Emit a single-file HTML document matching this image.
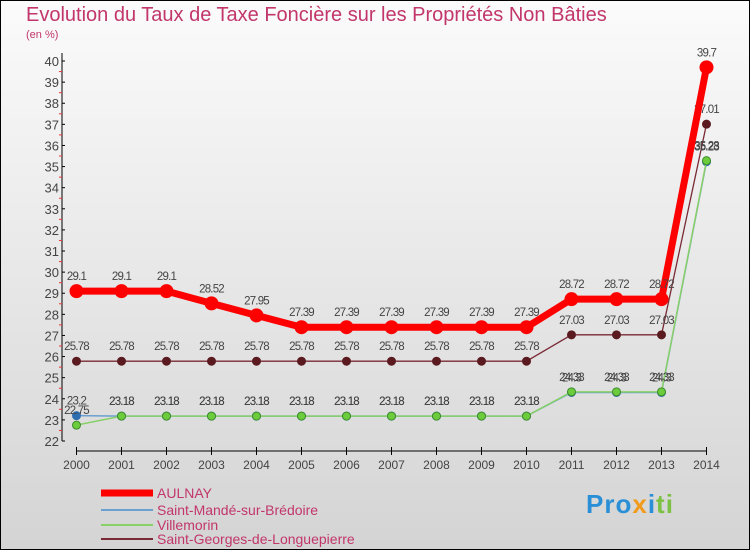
<!DOCTYPE html>
<html><head><meta charset="utf-8"><style>
body{margin:0}
#wrap{position:relative;width:748px;height:548px;border:1px solid #000;background:linear-gradient(#fbfbfb,#d4d4d4);font-family:"Liberation Sans",sans-serif;overflow:hidden}
.t{position:absolute;color:#c2366b}
</style></head><body>
<div id="wrap">
<div class="t" style="left:25px;top:3px;font-size:20px">Evolution du Taux de Taxe Foncière sur les Propriétés Non Bâties</div>
<div class="t" style="left:25px;top:28px;font-size:11px">(en %)</div>
<svg id="svg" width="748" height="548" style="position:absolute;left:0;top:0"></svg>
<div style="position:absolute;left:585px;top:488px;font-size:26px;font-weight:bold;letter-spacing:1px"><span style="color:#2a8fd6">Pro</span><span style="color:#f29a1b">x</span><span style="color:#2a8fd6">i</span><span style="color:#7cc143">ti</span></div>
</div>
<script>
const years=[2000,2001,2002,2003,2004,2005,2006,2007,2008,2009,2010,2011,2012,2013,2014];
const aulnay=[29.1,29.1,29.1,28.52,27.95,27.39,27.39,27.39,27.39,27.39,27.39,28.72,28.72,28.72,39.7];
const mande=[23.2,23.18,23.18,23.18,23.18,23.18,23.18,23.18,23.18,23.18,23.18,24.3,24.3,24.3,35.23];
const villemorin=[22.75,23.18,23.18,23.18,23.18,23.18,23.18,23.18,23.18,23.18,23.18,24.33,24.33,24.33,35.28];
const georges=[25.78,25.78,25.78,25.78,25.78,25.78,25.78,25.78,25.78,25.78,25.78,27.03,27.03,27.03,37.01];
const yTicks=[22,23,24,25,26,27,28,29,30,31,32,33,34,35,36,37,38,39,40];
const names=["AULNAY","Saint-Mandé-sur-Brédoire","Villemorin","Saint-Georges-de-Longuepierre"];
const NS="http://www.w3.org/2000/svg",svg=document.getElementById('svg');
const X=i=>75.5+i*45, Y=v=>440-(v-22)*21.11;
function el(t,a,p){const e=document.createElementNS(NS,t);for(const k in a)e.setAttribute(k,a[k]);(p||svg).appendChild(e);return e;}
let e=el('line',{x1:61,y1:52,x2:61,y2:440,stroke:'#000'});


e=el('line',{x1:75,y1:450,x2:706,y2:450,stroke:'#000'});


yTicks.forEach(v=>{el('line',{x1:61,y1:Y(v),x2:64,y2:Y(v),stroke:'#000'});
 if(v<40)el('line',{x1:58,y1:Y(v+0.5),x2:61,y2:Y(v+0.5),stroke:'#e33'});
 const t=el('text',{x:58,y:Y(v)+5,'text-anchor':'end','font-size':13,fill:'#444'});t.textContent=v;
 
 });
years.forEach((y,i)=>{el('line',{x1:X(i),y1:446,x2:X(i),y2:454,stroke:'#000'});
 const t=el('text',{x:X(i),y:468,'text-anchor':'middle','font-size':12,fill:'#444'});t.textContent=y;
 
 });
function series(d,color,w,r,fill,stroke,name){
 const g=el('g',{});
 
 
 el('polyline',{points:d.map((v,i)=>X(i)+','+Y(v)).join(' '),fill:'none',stroke:color,'stroke-width':w},g);
 d.forEach((v,i)=>{el('circle',{cx:X(i),cy:Y(v),r:r,fill:fill,stroke:stroke},g);
  const t=el('text',{x:X(i),y:Y(v)-11,'text-anchor':'middle','font-size':11.5,fill:'#444','letter-spacing':'-0.8'},g);t.textContent=v;});
}
series(georges,'#7a2a35',1.3,4,'#5a1a1f','#5a1a1f','series-saint-georges');
series(mande,'#6aa0d0',1.5,4,'#2f6fb0','#2f6fb0','series-saint-mande');
series(villemorin,'#88d068',1.5,4,'#6ccc3c','#3c8c2c','series-villemorin');
series(aulnay,'#f00',7,6.5,'#f00','#f00','series-aulnay');
const ly=[492,509,524,538],lc=['#f00','#6aa0d0','#88d068','#7a2a35'],lw=[7,2,2,2];
names.forEach((n,i)=>{const g=el('g',{});
 
 
 el('line',{x1:100,y1:ly[i],x2:152,y2:ly[i],stroke:lc[i],'stroke-width':lw[i]},g);
 const t=el('text',{x:156,y:ly[i]+5,'font-size':14,fill:'#c2366b'},g);t.textContent=n;});
</script>
</body></html>
